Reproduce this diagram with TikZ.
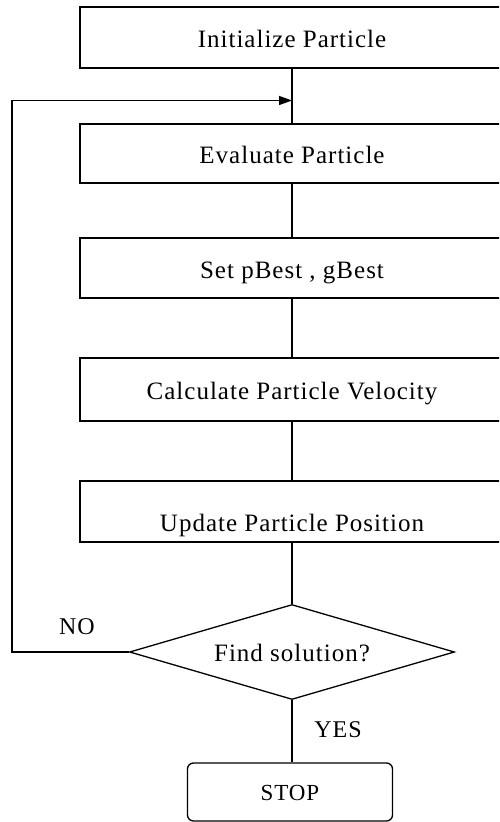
\documentclass[tikz,border=0pt]{standalone}
\usepackage{fontspec}
\setmainfont{Liberation Serif}[LetterSpace=4]
\usetikzlibrary{shapes.geometric,arrows.meta}
\newcommand{\steptext}[2][-10pt]{\raisebox{#1}[0pt][0pt]{#2}}
\begin{document}
\begin{tikzpicture}[x=1pt,y=-1pt,line width=1.3pt,
  stepbox/.style={draw,rectangle,minimum width=424pt,inner sep=0pt,font=\fontsize{25}{28}\selectfont},
  decision/.style={draw,diamond,aspect=3.42,minimum width=325pt,minimum height=95pt,inner sep=0pt,font=\fontsize{25}{28}\selectfont},
  endbox/.style={draw,rectangle,rounded corners=6pt,minimum width=205pt,minimum height=58pt,inner sep=0pt,font=\fontsize{23}{26}\selectfont},
  tag/.style={font=\fontsize{24}{26}\selectfont,inner sep=0pt},
  flow/.style={draw},
  back/.style={draw,-{Triangle[length=13pt,width=9pt]}}]
\useasboundingbox (0,0) rectangle (499,822);
\clip (0,0) rectangle (499,822);
\fill[white] (0,0) rectangle (499,822);

% process steps
\node[stepbox,minimum height=61pt] (init) at (292,37.5) {\steptext{Initialize Particle}};
\node[stepbox,minimum height=59pt] (eval) at (292,153.5) {\steptext{Evaluate Particle}};
\node[stepbox,minimum height=60pt] (best) at (292,268) {\steptext{Set pBest , gBest}};
\node[stepbox,minimum height=63pt] (vel) at (292,389.5) {\steptext{Calculate Particle Velocity}};
\node[stepbox,minimum height=61pt] (pos) at (292,511.5) {\steptext[-20pt]{Update Particle Position}};

% test and end
\node[decision] (test) at (292,652) {\steptext[-9pt]{Find solution?}};
\node[endbox] (stop) at (290,792) {\steptext[-8pt]{STOP}};

% connectors
\coordinate (merge) at (292,100.5);
\coordinate (leftdown) at (12,652);
\coordinate (leftup) at (12,100.5);
\draw[flow] (init.south) -- (eval.north);
\draw[flow] (eval.south) -- (best.north);
\draw[flow] (best.south) -- (vel.north);
\draw[flow] (vel.south) -- (pos.north);
\draw[flow] (pos.south) -- (test.north);
\draw[flow] (test.south) -- (test.south |- stop.north);
\draw[back] (test.west) -- (leftdown) -- (leftup) -- (merge);

% branch labels
\node[tag] (no) at (77,627) {NO};
\node[tag] (yes) at (338,730) {YES};
\end{tikzpicture}
\end{document}
